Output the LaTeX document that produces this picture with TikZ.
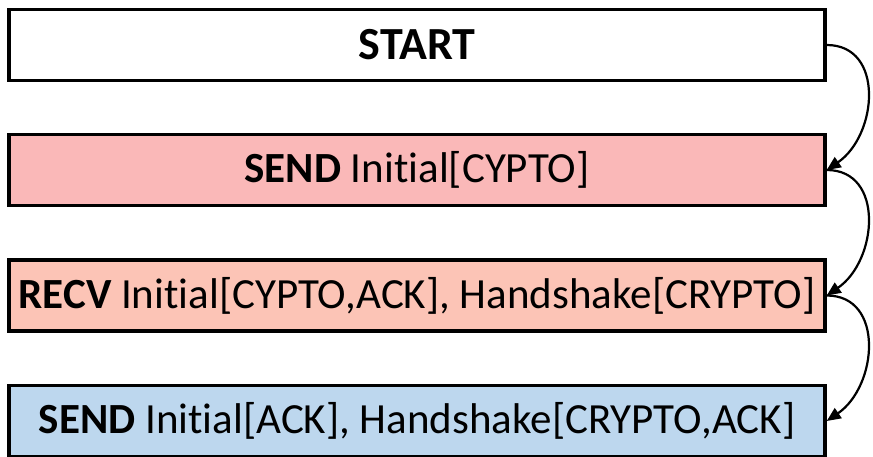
\documentclass[tikz,border=0pt]{standalone}
\usepackage{fontspec}
\setmainfont{Carlito}[Ligatures={NoCommon}]
\usetikzlibrary{arrows.meta}
\definecolor{sendpink}{RGB}{250,184,184}
\definecolor{recvsalmon}{RGB}{252,196,182}
\definecolor{sendblue}{RGB}{189,215,238}
\tikzset{
  stagebox/.style={draw=black, line width=3.5pt, minimum width=816pt,
    minimum height=71pt, inner sep=0pt, font=\fontsize{43}{48}\selectfont},
  flow/.style={line width=2.2pt, -{Triangle[length=14pt,width=12pt]}}
}
\begin{document}
\begin{tikzpicture}[x=1pt,y=1pt]
  \useasboundingbox (0,0) rectangle (873,-456);
  \node[stagebox, fill=white, font=\fontsize{46}{52}\selectfont\bfseries] (start) at (417,-45) {START};
  \node[stagebox, fill=sendpink] (send1) at (417,-170) {\textbf{SEND} Initial[CYPTO]};
  \node[stagebox, fill=recvsalmon] (recv) at (417,-295.5) {\textbf{RECV} Initial[CYPTO,ACK], Handshake[CRYPTO]};
  \node[stagebox, fill=sendblue] (send2) at (417,-421) {\textbf{SEND} Initial[ACK], Handshake[CRYPTO,ACK]};
  % arcs on the right side linking consecutive stages
  \draw[flow] (start.east) .. controls +(58,0) and +(51,35) .. (send1.east);
  \draw[flow] (send1.east) .. controls +(58,0) and +(51,35) .. (recv.east);
  \draw[flow] (recv.east) .. controls +(58,0) and +(51,35) .. (send2.east);
\end{tikzpicture}
\end{document}
